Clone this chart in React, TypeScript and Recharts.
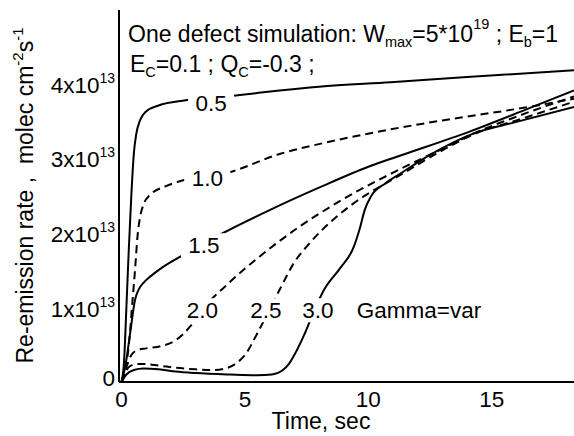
import React from 'react';
import { LineChart, Line, XAxis, YAxis, ReferenceDot } from 'recharts';

const FONT = '"Liberation Sans", Arial, Helvetica, sans-serif';

// time (s) and re-emission rate (x 1e13 molec cm^-2 s^-1) for each gamma
const t05 = [0, 0.1, 0.2, 0.3, 0.4, 0.5, 0.6, 0.75, 1.0, 1.5, 2.6, 4.8, 6.4, 8, 10.9, 14, 18.33];
const v05 = [0, 0.25, 1.0, 1.8, 2.5, 3.05, 3.32, 3.5, 3.62, 3.7, 3.77, 3.84, 3.9, 3.95, 4.01, 4.08, 4.17];

const t10 = [0, 0.15, 0.3, 0.45, 0.55, 0.65, 0.75, 0.9, 1.15, 1.8, 2.5, 4.3, 6.4, 8.5, 10.9, 13, 16.5, 18.33];
const v10 = [0, 0.15, 0.5, 1.1, 1.5, 1.95, 2.2, 2.38, 2.5, 2.62, 2.7, 2.8, 3.05, 3.22, 3.38, 3.5, 3.68, 3.79];

const t15 = [0, 0.15, 0.35, 0.55, 0.7, 0.9, 1.2, 1.6, 2.4, 4.1, 6, 8, 10, 11.3, 14.1, 16.5, 18.33];
const v15 = [0, 0.2, 0.65, 1.1, 1.24, 1.33, 1.42, 1.52, 1.68, 1.99, 2.3, 2.6, 2.88, 3.03, 3.35, 3.66, 3.9];

const t20 = [0, 0.2, 0.4, 0.6, 1.0, 1.6, 2.2, 2.8, 3.3, 4.3, 5.6, 7, 9, 11.3, 13, 14.3, 16, 18.33];
const v20 = [0, 0.2, 0.36, 0.42, 0.45, 0.48, 0.56, 0.75, 0.98, 1.31, 1.68, 2.03, 2.45, 2.85, 3.12, 3.33, 3.55, 3.82];

const t25 = [0, 0.15, 0.3, 0.6, 0.9, 1.5, 2.2, 3, 3.7, 4.2, 4.6, 5.0, 5.5, 6.0, 6.4, 7, 7.6, 8.5, 9.4, 11.3, 13, 14.3, 16, 18.33];
const v25 = [0, 0.12, 0.2, 0.24, 0.24, 0.22, 0.19, 0.17, 0.16, 0.18, 0.24, 0.36, 0.65, 0.97, 1.23, 1.6, 1.85, 2.15, 2.39, 2.77, 3.1, 3.32, 3.5, 3.75];

const t30 = [0, 0.2, 0.5, 0.9, 1.5, 2.2, 3, 4.4, 5.5, 6.1, 6.5, 6.8, 7.0, 7.4, 7.8, 8.2, 8.85, 9.4, 9.65, 9.85, 10.1, 10.7, 11.3, 12.5, 14.3, 16, 18.33];
const v30 = [0, 0.1, 0.16, 0.18, 0.17, 0.14, 0.12, 0.1, 0.09, 0.1, 0.15, 0.25, 0.36, 0.63, 0.95, 1.23, 1.52, 1.8, 2.05, 2.3, 2.48, 2.66, 2.79, 3.04, 3.33, 3.48, 3.68];

// curve labels
const labelText = ['0.5', '1.0', '1.5', '2.0', '2.5', '3.0', 'Gamma=var'];
const labelT = [3.63, 3.48, 3.34, 3.28, 5.85, 7.96, 12.05];
const labelV = [3.73, 2.73, 1.83, 0.96, 0.96, 0.96, 0.96];

const xMajor = [0, 5, 10, 15];
const xMinor = [0, 2.5, 5, 7.5, 10, 12.5, 15, 17.5];
const yMajor = [0, 1, 2, 3, 4];
const yMinor = [0, 0.5, 1, 1.5, 2, 2.5, 3, 3.5, 4, 4.5];

const curve = (ts: number[], vs: number[]) => ts.map((t, i) => ({ t, v: vs[i] }));

const series = [
  { key: 'g05', data: curve(t05, v05), dash: undefined },
  { key: 'g10', data: curve(t10, v10), dash: '8 5' },
  { key: 'g15', data: curve(t15, v15), dash: undefined },
  { key: 'g20', data: curve(t20, v20), dash: '8 5' },
  { key: 'g25', data: curve(t25, v25), dash: '8 5' },
  { key: 'g30', data: curve(t30, v30), dash: undefined },
];

const X_DOMAIN: [number, number] = [-0.1, 18.33];
const Y_DOMAIN: [number, number] = [0, 4.977];

function XTick({ x, y, payload }: any) {
  return (
    <text x={x} y={y + 25} textAnchor="middle" fontSize={22.5} fontFamily={FONT} fill="#000">
      {payload.value}
    </text>
  );
}

function YTick({ x, y, payload }: any) {
  if (payload.value === 0) {
    return (
      <text x={x - 4} y={y + 4} textAnchor="end" fontSize={22.5} fontFamily={FONT} fill="#000">0</text>
    );
  }
  return (
    <text x={x - 4} y={y + 9.5} textAnchor="end" fontSize={22.5} fontFamily={FONT} fill="#000">
      {payload.value}x10<tspan dy={-10} fontSize={14}>13</tspan>
    </text>
  );
}

function CurveLabel({ cx, cy, text }: any) {
  const w = text.length > 3 ? 0 : 46;
  return (
    <g>
      {w > 0 && <rect x={cx - w / 2} y={cy - 12} width={w} height={24} fill="#fff" />}
      <text x={cx} y={cy + 8} textAnchor="middle" fontSize={22.5} fontFamily={FONT} fill="#000">
        {text}
      </text>
    </g>
  );
}

export default function App() {
  return (
    <div style={{ position: 'absolute', left: 0, top: 0, width: 574, height: 436, background: '#fff' }}>
      <LineChart width={574} height={436} margin={{ top: 10, right: 0, bottom: 0, left: 0 }}>
        {/* labelled axes */}
        <XAxis xAxisId="b" type="number" dataKey="t" domain={X_DOMAIN} allowDataOverflow ticks={xMajor}
          interval={0} height={54} tickSize={0} tickMargin={0} tickLine={false}
          axisLine={{ stroke: '#000', strokeWidth: 2 }} tick={<XTick />} />
        <YAxis yAxisId="l" type="number" domain={Y_DOMAIN} allowDataOverflow ticks={yMajor}
          interval={0} width={119} tickSize={0} tickMargin={0} tickLine={false}
          axisLine={{ stroke: '#000', strokeWidth: 2 }} tick={<YTick />} />
        {/* inward tick marks */}
        <XAxis xAxisId="bm" type="number" dataKey="t" domain={X_DOMAIN} allowDataOverflow ticks={xMinor}
          interval={0} mirror height={0} tickSize={4} tick={false} axisLine={false}
          tickLine={{ stroke: '#000', strokeWidth: 1.5 }} />
        <XAxis xAxisId="bM" type="number" dataKey="t" domain={X_DOMAIN} allowDataOverflow ticks={xMajor}
          interval={0} mirror height={0} tickSize={7} tick={false} axisLine={false}
          tickLine={{ stroke: '#000', strokeWidth: 1.5 }} />
        <XAxis xAxisId="top" orientation="top" type="number" dataKey="t" domain={X_DOMAIN} allowDataOverflow
          ticks={xMinor} interval={0} mirror height={0} tickSize={6} tick={false}
          axisLine={{ stroke: '#000', strokeWidth: 2 }} tickLine={{ stroke: '#000', strokeWidth: 1.5 }} />
        <YAxis yAxisId="lm" type="number" domain={Y_DOMAIN} allowDataOverflow ticks={yMinor}
          interval={0} mirror width={0} tickSize={4} tick={false} axisLine={false}
          tickLine={{ stroke: '#000', strokeWidth: 1.5 }} />
        <YAxis yAxisId="lM" type="number" domain={Y_DOMAIN} allowDataOverflow ticks={yMajor}
          interval={0} mirror width={0} tickSize={7} tick={false} axisLine={false}
          tickLine={{ stroke: '#000', strokeWidth: 1.5 }} />
        <YAxis yAxisId="rm" orientation="right" type="number" domain={Y_DOMAIN} allowDataOverflow ticks={yMinor}
          interval={0} mirror width={0} tickSize={4} tick={false} axisLine={false}
          tickLine={{ stroke: '#000', strokeWidth: 1.5 }} />
        <YAxis yAxisId="rM" orientation="right" type="number" domain={Y_DOMAIN} allowDataOverflow ticks={yMajor}
          interval={0} mirror width={0} tickSize={6} tick={false} axisLine={false}
          tickLine={{ stroke: '#000', strokeWidth: 1.5 }} />

        {series.map((s) => (
          <Line key={s.key} xAxisId="b" yAxisId="l" data={s.data} dataKey="v" type="monotone"
            stroke="#000" strokeWidth={2} strokeDasharray={s.dash} dot={false} activeDot={false}
            isAnimationActive={false} />
        ))}

        {labelText.map((txt, i) => (
          <ReferenceDot key={txt} xAxisId="b" yAxisId="l" x={labelT[i]} y={labelV[i]}
            shape={(p: any) => <CurveLabel {...p} text={txt} />} />
        ))}
      </LineChart>

      {/* titles */}
      <svg width={574} height={436} style={{ position: 'absolute', left: 0, top: 0, pointerEvents: 'none' }}>
        <g fontFamily={FONT} fill="#000">
          <text x={128} y={42} fontSize={23}>
            One defect simulation: W<tspan dy={5} fontSize={14.5}>max</tspan>
            <tspan dy={-5}>=5*10</tspan><tspan dy={-13} fontSize={14.5}>19</tspan>
            <tspan dy={13}> ; E</tspan><tspan dy={5} fontSize={14.5}>b</tspan>
            <tspan dy={-5}>=1</tspan>
          </text>
          <text x={130} y={72} fontSize={23}>
            E<tspan dy={5} fontSize={14.5}>C</tspan><tspan dy={-5}>=0.1 ; Q</tspan>
            <tspan dy={5} fontSize={14.5}>C</tspan><tspan dy={-5}>=-0.3 ;</tspan>
          </text>
          <text x={321} y={429} fontSize={23} textAnchor="middle">Time, sec</text>
          <text transform="translate(33,195.5) rotate(-90)" fontSize={23} textAnchor="middle"
            style={{ whiteSpace: 'pre' }}>
            {'Re-emission rate ,  molec cm'}<tspan dy={-10} fontSize={15}>-2</tspan>
            <tspan dy={10}>s</tspan><tspan dy={-10} fontSize={15}>-1</tspan>
          </text>
        </g>
      </svg>
    </div>
  );
}
